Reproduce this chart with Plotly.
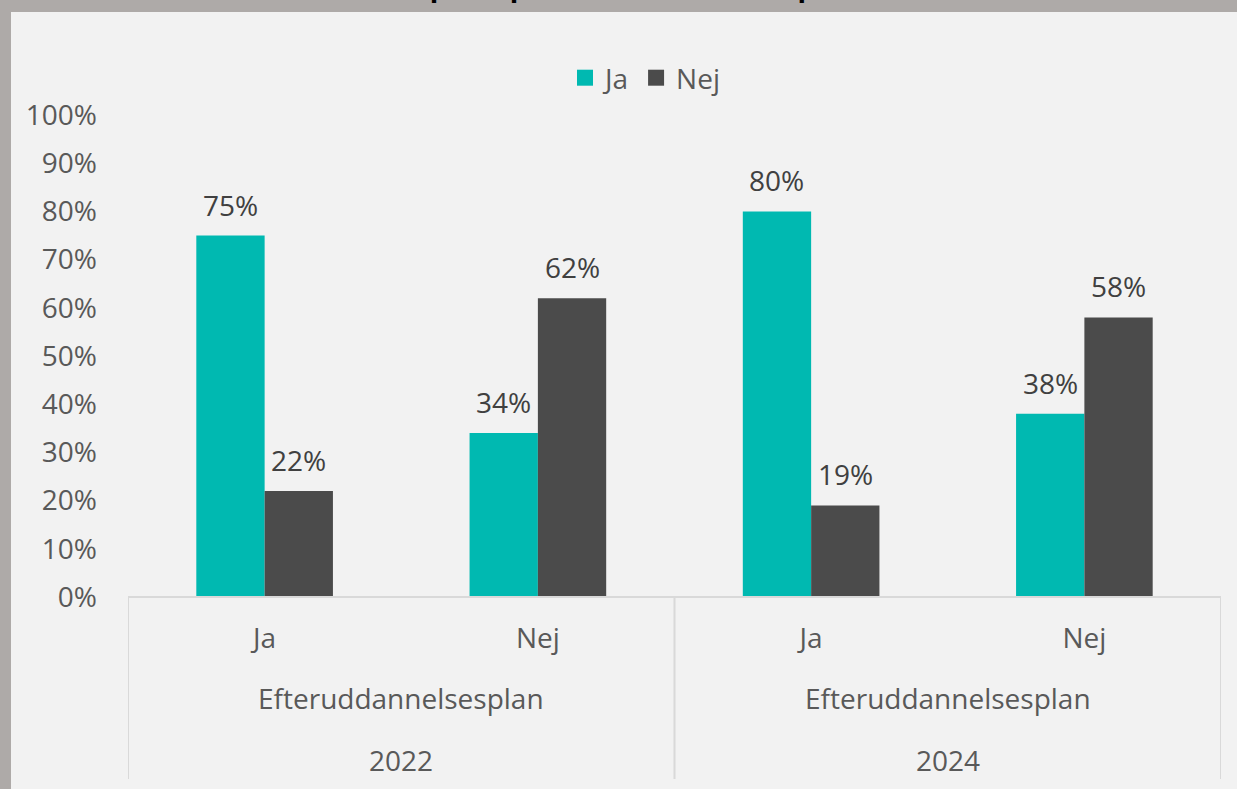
import plotly.graph_objects as go

categories = ["2022|Ja", "2022|Nej", "2024|Ja", "2024|Nej"]
sub_labels = ["Ja", "Nej", "Ja", "Nej"]
group_labels = ["Efteruddannelsesplan", "Efteruddannelsesplan"]
years = ["2022", "2024"]
series_names = ["Ja", "Nej"]
ja_values = [75, 34, 80, 38]
nej_values = [22, 62, 19, 58]
y_ticks = list(range(0, 101, 10))

TEAL = "#00B9B1"
DARK = "#4B4B4B"
TXT = "#595959"
LBL = "#404040"
FONT = "Open Sans"
FS = 28

W, H = 1237, 789
# plot area in pixels
SX0, SX1, SY0, SY1 = 128, 1221, 115, 597
L, R, T, B = SX0, W - SX1, SY0, H - SY1
ph = H - T - B
pw = W - L - R


def py(s):
    return (SY1 - s) / ph


def px(s):
    return (s - SX0) / pw


fig = go.Figure()
fig.add_trace(go.Bar(x=categories, y=ja_values, name=series_names[0],
                     marker_color=TEAL, marker_line_width=0, showlegend=False))
fig.add_trace(go.Bar(x=categories, y=nej_values, name=series_names[1],
                     marker_color=DARK, marker_line_width=0, showlegend=False))
# legend entries with larger square swatches
for name, col in zip(series_names, (TEAL, DARK)):
    fig.add_trace(go.Scatter(x=[None], y=[None], mode="markers", name=name,
                             marker=dict(symbol="square", size=18, color=col)))

annotations = []
half_bar = pw / len(categories) * 0.5 / 4
for i, c in enumerate(categories):
    for vals, sh in ((ja_values, -half_bar), (nej_values, half_bar)):
        annotations.append(dict(x=i, y=vals[i], xref="x", yref="y", text=f"{vals[i]}%",
                                showarrow=False, xshift=sh, yshift=10, yanchor="bottom",
                                font=dict(family=FONT, size=FS, color=LBL)))

for g in range(2):
    annotations.append(dict(x=2 * g + 0.5, y=py(698), xref="x", yref="paper",
                            text=group_labels[g], showarrow=False, yanchor="middle",
                            font=dict(family=FONT, size=FS, color=TXT)))
    annotations.append(dict(x=2 * g + 0.5, y=py(760), xref="x", yref="paper",
                            text=years[g], showarrow=False, yanchor="middle",
                            font=dict(family=FONT, size=FS, color=TXT)))

annotations.append(dict(x=px(636), y=py(6), xref="paper", yref="paper",
                        text="<b>(opdelt på efteruddannelsesplan)</b>", showarrow=False,
                        yanchor="bottom", font=dict(family=FONT, size=28, color="#000000")))

GRAY = "#AEAAA8"
shapes = [
    dict(type="rect", xref="paper", yref="paper", x0=px(-50), x1=px(11),
         y0=py(900), y1=py(-50), fillcolor=GRAY, line_width=0, layer="below"),
    dict(type="rect", xref="paper", yref="paper", x0=px(-50), x1=px(1300),
         y0=py(12), y1=py(-50), fillcolor=GRAY, line_width=0, layer="below"),
    dict(type="line", xref="paper", yref="paper", x0=0, x1=1, y0=0, y1=0,
         line=dict(color="#D9D9D9", width=2)),
]
for xv in (-0.5, 1.5, 3.5):
    shapes.append(dict(type="line", xref="x", yref="paper", x0=xv, x1=xv,
                       y0=0, y1=py(779), line=dict(color="#D9D9D9", width=2)))

fig.update_layout(
    width=W, height=H,
    margin=dict(l=L, r=R, t=T, b=B),
    paper_bgcolor="#F2F2F2",
    plot_bgcolor="#F2F2F2",
    barmode="group", bargap=0.5, bargroupgap=0,
    font=dict(family=FONT, size=FS, color=TXT),
    showlegend=True,
    legend=dict(orientation="h", x=px(645), xanchor="center", y=py(78), yanchor="middle",
                font=dict(family=FONT, size=FS, color=TXT), bgcolor="rgba(0,0,0,0)",
                itemwidth=30, traceorder="normal", itemsizing="trace"),
    annotations=annotations,
    shapes=shapes,
)
fig.update_xaxes(type="category", tickvals=categories, ticktext=sub_labels,
                 showgrid=False, showline=False, zeroline=False, ticks="",
                 tickfont=dict(family=FONT, size=FS, color=TXT), ticklabelstandoff=22,
                 range=[-0.5, 3.5])
fig.update_yaxes(range=[0, 100], tickvals=y_ticks, ticktext=[f"{v}%" for v in y_ticks],
                 showgrid=False, showline=False, zeroline=False, ticks="",
                 tickfont=dict(family=FONT, size=FS, color=TXT), ticklabelstandoff=30)

fig.write_html("out.html", config={"displayModeBar": False},
               post_script="document.body.style.margin='0';document.body.style.overflow='hidden';")
